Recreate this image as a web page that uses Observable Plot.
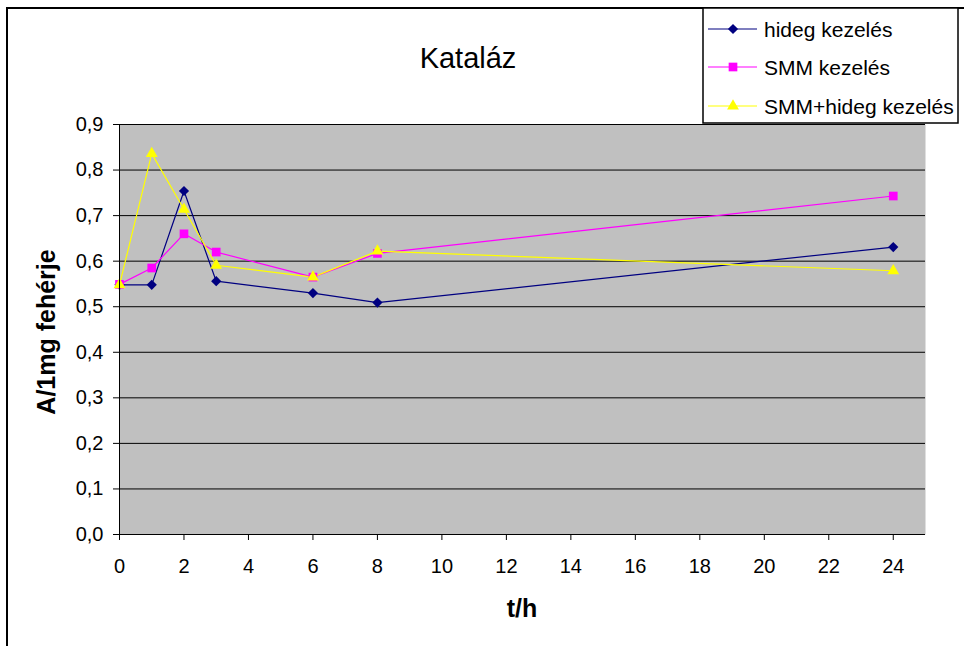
<!DOCTYPE html>
<html>
<head>
<meta charset="utf-8">
<script src="https://cdn.jsdelivr.net/npm/d3@7"></script>
<script src="https://cdn.jsdelivr.net/npm/@observablehq/plot@0.6"></script>
<style>
  html, body { margin: 0; padding: 0; background: white; }
</style>
</head>
<body>
<div id="chart"></div>
<script>
// ---- data ----
const hours = [0, 1, 2, 3, 6, 8, 24];
const hidegKezeles = [0.548, 0.548, 0.754, 0.556, 0.530, 0.509, 0.631];
const smmKezeles = [0.549, 0.585, 0.660, 0.620, 0.565, 0.617, 0.743];
const smmHidegKezeles = [0.548, 0.836, 0.714, 0.591, 0.565, 0.622, 0.579];
const seriesNames = ["hideg kezelés", "SMM kezelés", "SMM+hideg kezelés"];
const xTicks = [0, 2, 4, 6, 8, 10, 12, 14, 16, 18, 20, 22, 24];
const yTicks = [0, 0.1, 0.2, 0.3, 0.4, 0.5, 0.6, 0.7, 0.8, 0.9];
const titleText = "Kataláz";
const xTitle = "t/h";
const yTitle = "A/1mg fehérje";

const seriesStyle = [
  {color: "#000080", symbol: "diamond2", r: 4.6},
  {color: "#FF00FF", symbol: "square", r: 4.9},
  {color: "#FFFF00", symbol: "triangle", r: 4.4}
];
const seriesValues = [hidegKezeles, smmKezeles, smmHidegKezeles];

const rows = [];
seriesNames.forEach((name, i) => {
  hours.forEach((h, j) => rows.push({series: name, t: h, v: seriesValues[i][j], idx: i}));
});

const marks = [
  Plot.frame({fill: "#C0C0C0", stroke: "none"}),
  Plot.gridY(yTicks.slice(1), {stroke: "black", strokeOpacity: 1, strokeWidth: 1})
];
seriesNames.forEach((name, i) => {
  const d = rows.filter(r => r.idx === i);
  const st = seriesStyle[i];
  marks.push(Plot.line(d, {x: "t", y: "v", stroke: st.color, strokeWidth: 1.2}));
});
seriesNames.forEach((name, i) => {
  const d = rows.filter(r => r.idx === i);
  const st = seriesStyle[i];
  marks.push(Plot.dot(d, {x: "t", y: "v", symbol: () => st.symbol, fill: st.color, stroke: "none", r: st.r}));
});
marks.push(
  Plot.ruleX([0], {stroke: "black", strokeWidth: 1}),
  Plot.ruleY([0], {stroke: "black", strokeWidth: 1}),
  Plot.axisX({ticks: xTicks, tickSize: 6, tickPadding: 18, fontSize: 20, label: null, stroke: "black"}),
  Plot.axisY({ticks: yTicks, tickSize: 6, tickPadding: 10, fontSize: 20, label: null,
    tickFormat: d => d.toFixed(1).replace(".", ","), stroke: "black"})
);

const chart = Plot.plot({
  width: 964,
  height: 646,
  marginLeft: 119,
  marginRight: 39,
  marginTop: 124,
  marginBottom: 112,
  x: {domain: [0, 25]},
  y: {domain: [0, 0.9]},
  symbol: {type: "identity"},
  style: {background: "white", fontFamily: "'Liberation Sans', Arial, sans-serif", color: "black", overflow: "visible"},
  marks
});
document.getElementById("chart").appendChild(chart);

// ---- decorations: border, title, axis titles, legend ----
const svg = d3.select(chart);
svg.insert("rect", ":first-child")
  .attr("x", 7).attr("y", 8).attr("width", 1000).attr("height", 1000)
  .attr("fill", "white").attr("stroke", "black").attr("stroke-width", 2);

svg.append("text").text(titleText)
  .attr("x", 468).attr("y", 68).attr("text-anchor", "middle")
  .attr("font-size", 29).attr("fill", "black");

svg.append("text").text(xTitle)
  .attr("x", 522).attr("y", 617).attr("text-anchor", "middle")
  .attr("font-size", 25).attr("font-weight", "bold").attr("fill", "black");

svg.append("text").text(yTitle)
  .attr("transform", "translate(55,332) rotate(-90)")
  .attr("text-anchor", "middle")
  .attr("font-size", 25).attr("font-weight", "bold").attr("fill", "black");

const leg = svg.append("g");
leg.append("rect").attr("x", 703).attr("y", 8).attr("width", 255).attr("height", 115)
  .attr("fill", "white").attr("stroke", "black").attr("stroke-width", 1.5);
const legY = [29, 67, 106];
const d3sym = {diamond2: d3.symbolDiamond2, square: d3.symbolSquare, triangle: d3.symbolTriangle};
seriesNames.forEach((name, i) => {
  const st = seriesStyle[i];
  leg.append("line").attr("x1", 708).attr("x2", 757).attr("y1", legY[i]).attr("y2", legY[i])
    .attr("stroke", st.color).attr("stroke-width", 1.2);
  leg.append("path").attr("d", d3.symbol(d3sym[st.symbol], Math.PI * st.r * st.r)())
    .attr("transform", `translate(733,${legY[i]})`).attr("fill", st.color);
  leg.append("text").text(name).attr("x", 764).attr("y", legY[i]).attr("dy", "0.36em")
    .attr("text-anchor", "start")
    .attr("font-size", 21).attr("fill", "black");
});
</script>
</body>
</html>
